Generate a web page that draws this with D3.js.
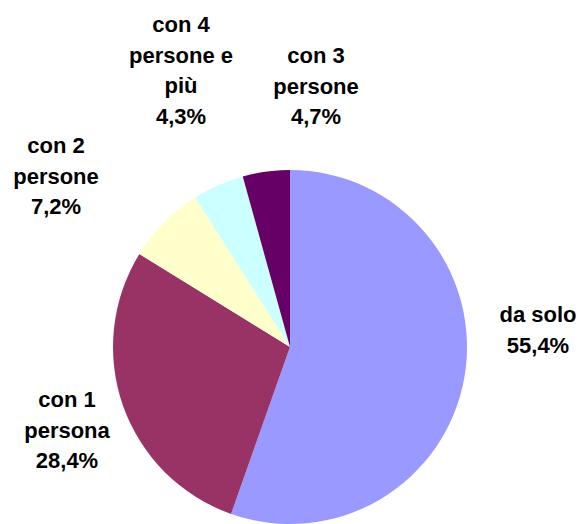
<!DOCTYPE html>
<html>
<head>
<meta charset="utf-8">
<script src="https://cdn.jsdelivr.net/npm/d3@7"></script>
<style>
  body { margin: 0; background: #fff; }
  text { font-family: "Liberation Sans", Arial, sans-serif; font-weight: bold; fill: #000; }
</style>
</head>
<body>
<svg id="chart" width="582" height="524"></svg>
<script>
// data, in slice order (clockwise from 12 o'clock)
var categories = ['da solo', 'con 1 persona', 'con 2 persone', 'con 3 persone', 'con 4 persone e più']
var values = [55.4, 28.4, 7.2, 4.7, 4.3]
var labelLines = [
  ['da solo'],
  ['con 1', 'persona'],
  ['con 2', 'persone'],
  ['con 3', 'persone'],
  ['con 4', 'persone e', 'più']
]
var colors = ['#9999FF', '#993366', '#FFFFCC', '#CCFFFF', '#660066']

// where each label block sits (centre x, first baseline y)
var labelAt = [[538, 322], [67, 407], [56, 153], [316, 63], [181, 32]]

var svg = d3.select('#chart')
var cx = 290, cy = 347, r = 177
var lineH = 30.5

var fmt = function (v) { return d3.format('.1f')(v).replace('.', ',') + '%' }

var pie = d3.pie().sort(null).value(function (d) { return d })
var arc = d3.arc().innerRadius(0).outerRadius(r)

var g = svg.append('g').attr('transform', 'translate(' + cx + ',' + cy + ')')

g.selectAll('path')
  .data(pie(values))
  .enter()
  .append('path')
  .attr('d', arc)
  .attr('fill', function (d, i) { return colors[i] })

var labels = svg.selectAll('.lbl')
  .data(categories)
  .enter()
  .append('text')
  .attr('class', 'lbl')
  .attr('text-anchor', 'middle')
  .style('font-size', '22px')

labels.each(function (d, i) {
  var t = d3.select(this)
  var lines = labelLines[i].concat([fmt(values[i])])
  lines.forEach(function (s, j) {
    t.append('tspan')
      .attr('x', labelAt[i][0])
      .attr('y', labelAt[i][1] + j * lineH)
      .text(s)
  })
})
</script>
</body>
</html>
